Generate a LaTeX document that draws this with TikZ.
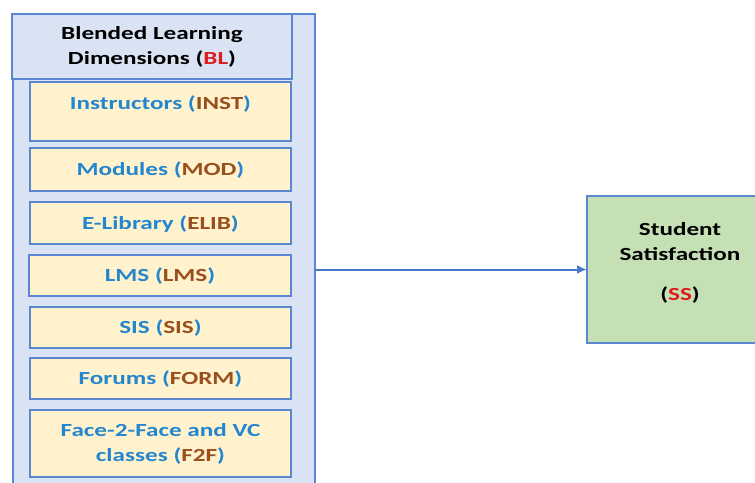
\documentclass[tikz,border=0pt]{standalone}
\usepackage{fontspec}
\usetikzlibrary{arrows.meta}
\newfontfamily\cfont{Carlito}[FakeStretch=1.36]
\definecolor{outerfill}{HTML}{DAE3F3}
\definecolor{boxline}{HTML}{5B87D0}
\definecolor{innerfill}{HTML}{FFF2CC}
\definecolor{ssfill}{HTML}{C5E0B4}
\definecolor{txtblue}{HTML}{2386CF}
\definecolor{txtbrown}{HTML}{9A4F1E}
\definecolor{txtred}{HTML}{E01B1B}
\definecolor{arrowblue}{HTML}{4A78C8}
\newcommand{\bl}[1]{\textcolor{txtblue}{#1}}
\newcommand{\br}[1]{\textcolor{txtbrown}{#1}}
\newcommand{\rd}[1]{\textcolor{txtred}{#1}}
\begin{document}
\begin{tikzpicture}[x=1pt,y=-1pt,
  every node/.style={font=\cfont\bfseries\fontsize{18.5}{25}\selectfont, inner sep=0pt, outer sep=0pt},
  outerbox/.style={draw=boxline, line width=1.9pt, fill=outerfill},
  headbox/.style={draw=boxline, line width=1.8pt, fill=outerfill, align=center},
  dimbox/.style={draw=boxline, line width=1.8pt, fill=innerfill, minimum width=261pt, align=center},
  oneline/.style={text height=12pt, text depth=0pt},
  ssbox/.style={draw=boxline, line width=1.8pt, fill=ssfill, align=center},
  conn/.style={draw=arrowblue, line width=2pt, -{Latex[length=10pt,width=9pt]}}
]
\useasboundingbox (0,0) rectangle (755,482);
\clip (0,0) rectangle (755,482);
\node[outerbox, minimum width=302pt, minimum height=476pt] (blbox) at (164,252) {};
\node[headbox, minimum width=280pt, minimum height=65pt] (head) at (152,46.5) {Blended Learning\\Dimensions (\rd{BL})};
\node[dimbox, text height=27pt, text depth=32pt] (inst) at (160.5,111.5) {\bl{Instructors (}\br{INST}\bl{)}};
\node[dimbox, oneline, minimum height=43pt] (mod) at (160.5,169.5) {\bl{Modules (}\br{MOD}\bl{)}};
\node[dimbox, oneline, minimum height=42pt] (elib) at (160.5,223) {\bl{E-Library (}\br{ELIB}\bl{)}};
\node[dimbox, oneline, minimum height=41pt, minimum width=262pt] (lms) at (160,275.5) {\bl{LMS (}\br{LMS}\bl{)}};
\node[dimbox, oneline, minimum height=41pt] (sis) at (160.5,327.5) {\bl{SIS (}\br{SIS}\bl{)}};
\node[dimbox, oneline, minimum height=41pt] (form) at (160.5,378.5) {\bl{Forums (}\br{FORM}\bl{)}};
\node[dimbox, minimum height=67pt] (f2f) at (160.5,443.5) {\bl{Face-2-Face and VC}\\\bl{classes (}\br{F2F}\bl{)}};
\node[ssbox, minimum width=186pt, minimum height=147pt, text depth=16pt] (ss) at (680,269.5) {Student\\Satisfaction\\[15pt](\rd{SS})};
\draw[conn] (ss.west -| blbox.east) -- (ss.west);
\end{tikzpicture}
\end{document}
